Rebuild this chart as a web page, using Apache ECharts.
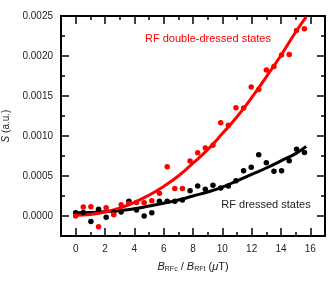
<!DOCTYPE html>
<html><head><meta charset="utf-8">
<script src="https://cdn.jsdelivr.net/npm/echarts@6/dist/echarts.min.js"></script>
<style>html,body{margin:0;padding:0;background:#fff}#c{width:332px;height:281px}</style>
</head><body><div id="c"></div>
<script>
// Data
var redX = [0,0.52,1.04,1.56,2.08,2.6,3.1,3.63,4.15,4.67,5.19,5.71,6.24,6.76,7.28,7.8,8.32,8.84,9.36,9.89,10.41,10.93,11.45,11.97,12.48,13.0,13.52,14.04,14.56,15.06,15.6];
var redY = [0.0,0.000112,0.000117,-0.000135,0.000102,0.000015,0.00014,0.000155,0.00017,0.000167,0.00019,0.000285,0.000617,0.000344,0.000344,0.000686,0.000792,0.00085,0.000883,0.001167,0.001135,0.001354,0.00135,0.001614,0.00158,0.001825,0.001868,0.002012,0.00202,0.002318,0.00234];
var blackX = [0,0.52,1.04,1.56,2.08,2.6,3.1,3.63,4.15,4.67,5.19,5.71,6.24,6.76,7.28,7.8,8.32,8.84,9.36,9.89,10.41,10.93,11.45,11.97,12.48,13.0,13.52,14.04,14.56,15.06,15.6];
var blackY = [0.00004,0.000045,-0.00007,0.000083,-0.000017,0.000046,0.00005,0.000183,0.000075,0.0,0.000042,0.000183,0.000183,0.000183,0.0002,0.000317,0.000375,0.000333,0.000383,0.00035,0.000375,0.000442,0.000567,0.000608,0.000767,0.000667,0.000558,0.000567,0.000692,0.000833,0.000794];
var fitX = [0,1,2,3,4,5,6,7,8,9,10,11,12,13,14,15,15.72];
var redFitY = [0.00001,0.00002,0.00005,0.0001,0.00017,0.00026,0.00037,0.0005,0.00066,0.00083,0.00103,0.00124,0.00148,0.00174,0.00201,0.0023,0.00249];
var blackFitY = [0.00004,0.000043,0.000053,0.00007,0.00009,0.000124,0.00016,0.0002,0.00025,0.0003,0.00036,0.00044,0.00052,0.0006,0.00069,0.00078,0.00087];
var xMajorTicks = [0,2,4,6,8,10,12,14,16];
var xMinorTicks = [1,3,5,7,9,11,13,15];
var yMajorTicks = [0,0.0005,0.001,0.0015,0.002,0.0025];
var yMinorTicks = [0.00025,0.00075,0.00125,0.00175,0.00225];
var yLabels = ['0.0000','0.0005','0.0010','0.0015','0.0020','0.0025'];

function pairs(xs, ys){ return xs.map(function(x,i){ return [x, ys[i]]; }); }

var chart = echarts.init(document.getElementById('c'), null, {renderer:'canvas'});
var FONT = 'Liberation Sans, Arial, sans-serif';
var lineStyle = {color:'#000', width:2};
function xAx(pos, ticks, len, showLine, labels){
  return {type:'value', position:pos, min:-1, max:17, gridIndex:0,
    axisLine:{show:showLine, onZero:false, lineStyle:lineStyle},
    axisTick:{show:true, inside:true, length:len, customValues:ticks, lineStyle:{color:'#000', width:1.5}},
    axisLabel:{show:labels, customValues:xMajorTicks, color:'#222', fontSize:10, fontFamily:FONT, margin:8},
    splitLine:{show:false}};
}
function yAx(pos, ticks, len, showLine, labels){
  return {type:'value', position:pos, min:-0.00025, max:0.0025,
    axisLine:{show:showLine, onZero:false, lineStyle:lineStyle},
    axisTick:{show:true, inside:true, length:len, customValues:ticks, lineStyle:{color:'#000', width:1.5}},
    axisLabel:{show:labels, customValues:yMajorTicks, color:'#222', fontSize:10, fontFamily:FONT, margin:8,
      formatter:function(v){ var i = yMajorTicks.indexOf(v); return i>=0 ? yLabels[i] : ''; }},
    splitLine:{show:false}};
}
var xs = [xAx('bottom', xMajorTicks, 8, true, true), xAx('bottom', xMinorTicks, 4, false, false),
          xAx('top', xMajorTicks, 8, true, false), xAx('top', xMinorTicks, 4, false, false)];
xs[0].name = '{i|B}{s|RFc} / {i|B}{s|RFt} ({i|μ}T)';
xs[0].nameLocation = 'middle';
xs[0].nameGap = 25;
xs[0].nameTextStyle = {color:'#222', fontSize:11, fontFamily:FONT,
  rich:{i:{fontStyle:'italic', fontSize:11, fontFamily:FONT, color:'#222'},
        s:{fontSize:7, fontFamily:FONT, color:'#222', padding:[5,0,0,0]}}};
var ys = [yAx('left', yMajorTicks, 8, true, true), yAx('left', yMinorTicks, 4, false, false),
          yAx('right', yMajorTicks, 8, true, false), yAx('right', yMinorTicks, 4, false, false)];
ys[0].name = '{i|S} (a.u.)';
ys[0].nameLocation = 'middle';
ys[0].nameRotate = 90;
ys[0].nameGap = 47;
ys[0].nameTextStyle = {color:'#222', fontSize:10, fontFamily:FONT,
  rich:{i:{fontStyle:'italic', fontSize:10, fontFamily:FONT, color:'#222'}}};

chart.setOption({
  animation:false,
  backgroundColor:'#fff',
  grid:{left:61, right:7, top:16, bottom:45, containLabel:false, outerBoundsMode:'none'},
  xAxis: xs,
  yAxis: ys,
  series:[
    {type:'line', data:pairs(fitX, blackFitY), smooth:true, showSymbol:false, symbol:'none', lineStyle:{color:'#000', width:3}, z:2},
    {type:'line', data:pairs(fitX, redFitY), smooth:true, showSymbol:false, symbol:'none', lineStyle:{color:'#ff0000', width:3}, z:2},
    {type:'scatter', data:pairs(blackX, blackY), symbolSize:5.5, itemStyle:{color:'#000', opacity:1}, z:3},
    {type:'scatter', data:pairs(redX, redY), symbolSize:5.5, itemStyle:{color:'#ff0000', opacity:1}, z:4}
  ],
  graphic:[
    {type:'text', style:{text:'RF double-dressed states', fill:'#ff0000', font:'11px '+FONT, x:208, y:39, align:'center', verticalAlign:'middle'}},
    {type:'text', style:{text:'RF dressed states', fill:'#222', font:'11px '+FONT, x:266, y:205, align:'center', verticalAlign:'middle'}}
  ]
});
</script></body></html>
